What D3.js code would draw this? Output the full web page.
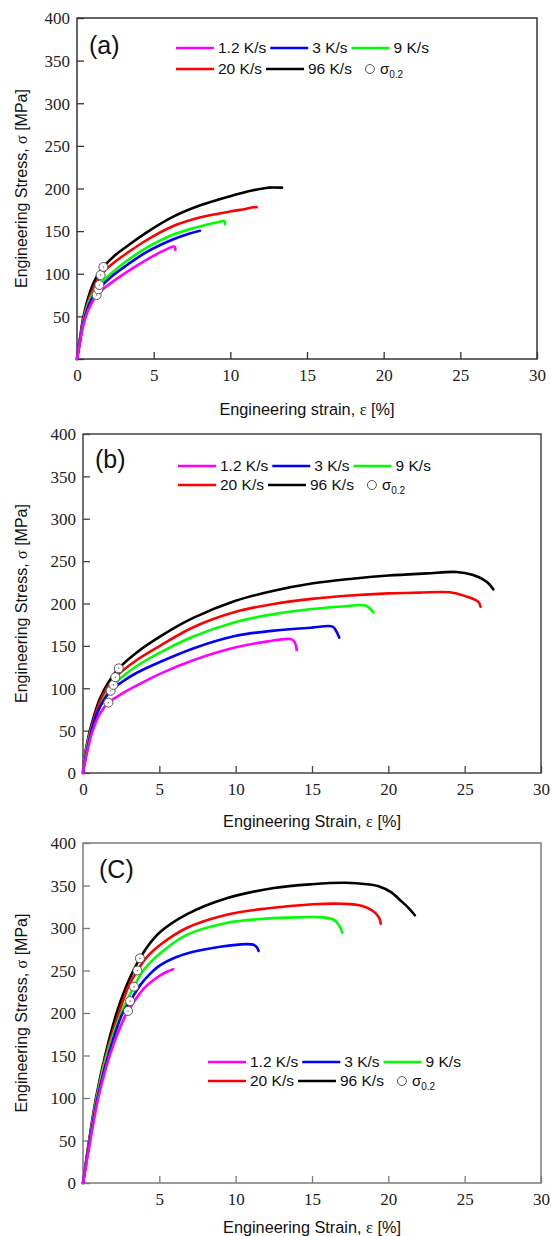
<!DOCTYPE html>
<html>
<head>
<meta charset="utf-8">
<script src="https://cdn.jsdelivr.net/npm/d3@7"></script>
<style>
  body { margin: 0; background: #fff; }
  svg { display: block; }
</style>
</head>
<body>
<script>
// legend + series
const rateLabels = ['1.2 K/s', '3 K/s', '9 K/s', '20 K/s', '96 K/s'];
const rateColors = ['#ff00ff', '#0000ff', '#00ff00', '#ff0000', '#000000'];
const xTickValues = [0, 5, 10, 15, 20, 25, 30];
const yTickValues = [0, 50, 100, 150, 200, 250, 300, 350, 400];

// panel (a): [strain %, stress MPa]
const a12 = [[0,0],[0.2,20],[0.4,39],[0.7,56],[1.0,67],[1.28,75],[2.2,89],[3.24,102],[4.5,116],[5.41,125],[6.3,132],[6.38,131.5],[6.42,128]];
const a3  = [[0,0],[0.2,21],[0.4,41],[0.7,60],[1.0,72],[1.39,81.7],[2.2,96],[3.24,110],[4.5,125],[6.28,140.4],[7.3,147],[8.02,150.5]];
const a9  = [[0,0],[0.2,22],[0.4,43],[0.7,63],[1.0,76],[1.46,86.8],[2.2,100],[3.24,115],[4.5,130],[6.28,146],[8,155.5],[9.3,161],[9.6,162],[9.65,158]];
const a20 = [[0,0],[0.2,23],[0.4,45],[0.7,66],[1.0,80],[1.54,98.5],[2.2,110],[3.24,124],[4.5,139],[6.28,156],[8,166],[9.98,173],[11,176],[11.5,178],[11.72,178]];
const a96 = [[0,0],[0.2,25],[0.4,48],[0.7,70],[1.0,86],[1.4,100],[1.72,108],[2.5,122],[3.24,132],[4.5,148],[6.28,167],[8,180],[9.98,191],[11.5,198],[12.3,200.5],[12.5,201],[13.37,201]];
const aYield = [[1.28,75],[1.39,81.7],[1.46,86.8],[1.54,98.5],[1.72,108]];

// panel (b)
const b12 = [[0,0],[0.1,10],[0.3,27],[0.6,48],[1.11,70],[1.66,83],[2.5,93],[3.5,103],[5.04,117],[7.22,133],[9.95,148],[12,155],[13.67,157.7],[13.9,153],[14.0,145.1]];
const b3  = [[0,0],[0.1,12],[0.3,30],[0.68,58],[1.11,78],[1.81,97],[2.6,108],[3.5,118],[5.04,131],[7.22,147],[9.95,161.6],[12.5,168],[14.98,171.5],[16.35,172.7],[16.6,167],[16.79,159.7]];
const b9  = [[0,0],[0.1,16],[0.3,34],[0.6,54],[1.11,78],[1.5,92],[1.99,104],[2.6,114],[3.5,126],[5.04,142],[7.22,161],[9.95,178],[12.5,187.5],[14.98,193.5],[17,196.5],[18.47,197.8],[18.8,194],[19.01,189.6]];
const b20 = [[0,0],[0.1,17],[0.3,36],[0.6,57],[1.11,84],[1.6,101],[2.12,113],[3.5,133],[5.04,150],[7.22,172],[9.95,190],[12.5,199.5],[14.98,205.5],[17.5,209.5],[20,212],[22,212.8],[24.03,213.2],[25,209],[25.9,202],[26.04,196.3]];
const b96 = [[0,0],[0.1,18],[0.3,38],[0.6,60],[1.11,88],[1.7,108],[2.34,123.5],[3.5,142],[5.04,161],[7.22,183],[9.95,203],[12.5,215],[14.98,223.5],[17.5,229],[20,233],[22.5,235.5],[24.47,237.2],[25.5,234],[26.2,228.5],[26.6,223],[26.87,216.7]];
const bYield = [[1.66,83],[1.81,97],[1.99,104],[2.12,113],[2.34,123.5]];

// panel (c)
const c12 = [[0,0],[0.48,50],[1.0,100],[1.75,150],[2.75,196],[2.95,202.4],[3.95,228],[4.5,237],[5.04,244],[5.5,248.5],[5.91,251.4]];
const c3  = [[0,0],[0.45,50],[0.95,100],[1.65,150],[2.6,200],[3.08,214],[3.8,234],[4.39,246],[5.04,256],[6,265],[7.22,272],[9,278],[10.72,281],[11.2,280],[11.4,277],[11.5,273]];
const c9  = [[0,0],[0.43,50],[0.9,100],[1.55,150],[2.5,200],[3.34,231],[3.95,250],[5.04,270],[6.79,292],[9.41,306],[12,311],[14,312.5],[15.74,312.5],[16.4,310],[16.7,305],[17.0,294.5]];
const c20 = [[0,0],[0.42,50],[0.88,100],[1.5,150],[2.35,200],[3.0,232],[3.56,250],[4.3,268],[5.04,280],[6.79,300],[9.41,315.5],[12,323],[15.08,328],[17,328.5],[18.3,326],[19,320],[19.4,312],[19.5,305]];
const c96 = [[0,0],[0.4,50],[0.85,100],[1.45,150],[2.2,200],[2.8,230],[3.3,250],[3.73,264.3],[4.3,280],[5.04,295],[6.79,316],[9.41,335],[12.5,347],[15,351.5],[17.2,353.2],[18.6,351.5],[19.45,348.6],[20.2,342],[20.76,333],[21.3,324],[21.74,315]];
const cYield = [[2.95,202.4],[3.08,214],[3.34,231],[3.56,250],[3.73,264.3]];

const W = 551, H = 1236;
const svg = d3.select('body').append('svg')
    .attr('width', W)
    .attr('height', H);

const panels = [
    { label: '(a)', curves: [a12, a3, a9, a20, a96], yieldPts: aYield,
      box: { l: 77, r: 537, t: 18, b: 359 }, frame: '#333',
      xTitle: 'Engineering strain, ', xTitleY: 415, yZeroLabel: false, xZeroLabel: true,
      labelPos: [89, 54], legend: { x: 176, y1: 48, y2: 69 } },
    { label: '(b)', curves: [b12, b3, b9, b20, b96], yieldPts: bYield,
      box: { l: 83, r: 541, t: 434, b: 773 }, frame: '#444',
      xTitle: 'Engineering Strain, ', xTitleY: 827, yZeroLabel: true, xZeroLabel: true,
      labelPos: [95, 468], legend: { x: 178, y1: 466, y2: 485 } },
    { label: '(C)', curves: [c12, c3, c9, c20, c96], yieldPts: cYield,
      box: { l: 83, r: 541, t: 843, b: 1183 }, frame: '#7a7a7a',
      xTitle: 'Engineering Strain, ', xTitleY: 1233, yZeroLabel: true, xZeroLabel: false,
      labelPos: [99, 878], legend: { x: 208, y1: 1062, y2: 1081 } }
];

const serif = '"Liberation Serif", "Times New Roman", serif';
const sans = '"Liberation Sans", Arial, sans-serif';

panels.forEach(p => {
    const x = d3.scaleLinear().domain([0, 30]).range([p.box.l, p.box.r]);
    const y = d3.scaleLinear().domain([0, 400]).range([p.box.b, p.box.t]);
    const g = svg.append('g');

    // axes with inward ticks
    const xAxis = d3.axisBottom(x).tickValues(xTickValues).tickSizeInner(-7).tickSizeOuter(0)
        .tickFormat(d => (d === 0 && !p.xZeroLabel) ? '' : d);
    const yAxis = d3.axisLeft(y).tickValues(yTickValues).tickSizeInner(-7).tickSizeOuter(0)
        .tickFormat(d => (d === 0 && !p.yZeroLabel) ? '' : d);

    const gx = g.append('g').attr('transform', `translate(0,${p.box.b})`).call(xAxis);
    const gy = g.append('g').attr('transform', `translate(${p.box.l},0)`).call(yAxis);
    [gx, gy].forEach(ax => {
        ax.attr('font-family', serif).attr('font-size', 17);
        ax.select('.domain').remove();
        ax.selectAll('line').attr('stroke', p.frame).attr('stroke-width', 1.3);
        ax.selectAll('text').attr('fill', '#222').style('font-family', serif);
    });
    gx.selectAll('text').attr('y', 10).attr('dy', '0.71em');
    gy.selectAll('text').attr('x', -7).attr('dy', '0.34em');

    // frame
    g.append('rect')
        .attr('x', p.box.l).attr('y', p.box.t)
        .attr('width', p.box.r - p.box.l).attr('height', p.box.b - p.box.t)
        .attr('fill', 'none').attr('stroke', p.frame).attr('stroke-width', 1.5);

    // curves (fastest underneath)
    const line = d3.line().x(d => x(d[0])).y(d => y(d[1])).curve(d3.curveCatmullRom.alpha(0.5));
    for (let i = p.curves.length - 1; i >= 0; i--) {
        g.append('path')
            .attr('d', line(p.curves[i]))
            .attr('fill', 'none')
            .attr('stroke', rateColors[i])
            .attr('stroke-width', 2.6)
            .attr('stroke-linecap', 'round')
            .attr('stroke-linejoin', 'round');
    }

    // yield markers
    p.yieldPts.forEach(d => {
        g.append('circle').attr('cx', x(d[0])).attr('cy', y(d[1])).attr('r', 4.5)
            .attr('fill', '#fff').attr('stroke', '#555').attr('stroke-width', 1);
        g.append('circle').attr('cx', x(d[0])).attr('cy', y(d[1])).attr('r', 0.8).attr('fill', '#777');
    });

    // panel label
    g.append('text').attr('x', p.labelPos[0]).attr('y', p.labelPos[1])
        .style('font-family', sans).style('font-size', '25px').attr('fill', '#111')
        .text(p.label);

    // axis titles
    const xt = g.append('text')
        .attr('x', (p.box.l + p.box.r) / 2).attr('y', p.xTitleY)
        .attr('text-anchor', 'middle')
        .style('font-family', sans).style('font-size', '16.3px').attr('fill', '#111');
    xt.append('tspan').text(p.xTitle);
    xt.append('tspan').style('font-family', serif).text('ε');
    xt.append('tspan').text(' [%]');

    const yt = g.append('text')
        .attr('transform', `translate(27,${(p.box.t + p.box.b) / 2}) rotate(-90)`)
        .attr('text-anchor', 'middle')
        .style('font-family', sans).style('font-size', '16px').attr('fill', '#111');
    yt.append('tspan').text('Engineering Stress, ');
    yt.append('tspan').style('font-family', serif).text('σ');
    yt.append('tspan').text(' [MPa]');

    // legend: flow layout, 3 items per row
    const rows = [[0, 1, 2], [3, 4, 'yield']];
    rows.forEach((row, ri) => {
        let cx = p.legend.x;
        const cy = ri === 0 ? p.legend.y1 : p.legend.y2;
        row.forEach(k => {
            if (k === 'yield') {
                cx += 14;
                g.append('circle').attr('cx', cx).attr('cy', cy).attr('r', 4.5)
                    .attr('fill', '#fff').attr('stroke', '#555').attr('stroke-width', 1);
                const t = g.append('text').attr('x', cx + 10).attr('y', cy).attr('dy', '0.35em')
                    .style('font-family', sans).style('font-size', '15px').attr('fill', '#111');
                t.append('tspan').text('σ');
                t.append('tspan').attr('dy', '0.35em').style('font-size', '10px').text('0.2');
                return;
            }
            g.append('line').attr('x1', cx).attr('x2', cx + 38).attr('y1', cy).attr('y2', cy)
                .attr('stroke', rateColors[k]).attr('stroke-width', 2.6);
            const t = g.append('text').attr('x', cx + 42).attr('y', cy).attr('dy', '0.35em')
                .style('font-family', sans).style('font-size', '15.5px').attr('fill', '#111')
                .text(rateLabels[k]);
            cx += 42 + t.node().getComputedTextLength() + 4;
        });
    });
});
</script>
</body>
</html>
